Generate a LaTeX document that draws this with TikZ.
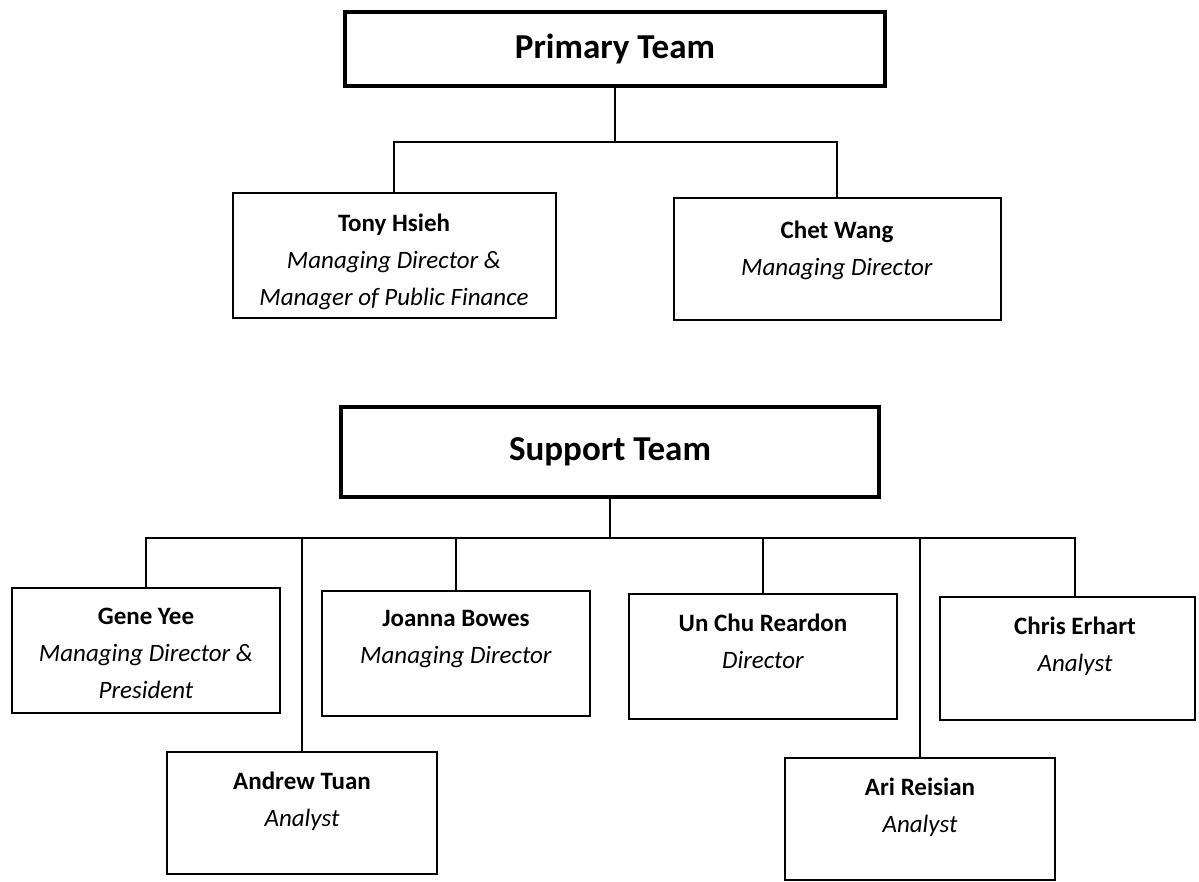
\documentclass[tikz,border=0pt]{standalone}
\usepackage{fontspec}
\setmainfont{Carlito}
\begin{document}
\begin{tikzpicture}[x=1pt,y=-1pt,
  teambox/.style={draw, line width=3.8pt, rectangle, inner sep=0pt,
    font=\fontsize{35}{40}\selectfont\bfseries},
  personbox/.style={draw, line width=2pt, rectangle, inner sep=0pt,
    minimum width=268pt, minimum height=125pt},
  persontext/.style={anchor=north, inner sep=0pt, align=center,
    font=\fontsize{25}{37}\selectfont},
  link/.style={line width=1.3pt}]
\useasboundingbox (0,0) rectangle (1199,882);

% Primary team
\node[teambox, minimum width=540pt, minimum height=74pt] (prim) at (615,49) {Primary Team};
\node[personbox, minimum width=323pt] (tony) at (394,256) {};
\node[persontext] (tonyT) at ([yshift=-21pt]tony.north) {\textbf{Tony Hsieh}\\\textit{Managing Director \&}\\\textit{Manager of Public Finance}};
\node[personbox, minimum width=327pt, minimum height=122pt] (chet) at (837,259) {};
\node[persontext] (chetT) at ([yshift=-24pt]chet.north) {\textbf{Chet Wang}\\\textit{Managing Director}};

\coordinate (pj) at (615,142);
\draw[link] (prim.south) -- (pj);
\draw[link] (tony.north) |- (pj) -| (chet.north);

% Support team
\node[teambox, minimum width=538pt, minimum height=90pt] (supp) at (610,452) {Support Team};

\node[personbox] (gene) at (146,650) {};
\node[persontext] (geneT) at ([yshift=-21pt]gene.north) {\textbf{Gene Yee}\\\textit{Managing Director \&}\\\textit{President}};

\node[personbox] (joanna) at (456,653) {};
\node[persontext] (joannaT) at ([yshift=-21pt]joanna.north) {\textbf{Joanna Bowes}\\\textit{Managing Director}};

\node[personbox] (unchu) at (763,656) {};
\node[persontext] (unchuT) at ([yshift=-21pt]unchu.north) {\textbf{Un Chu Reardon}\\\textit{Director}};

\node[personbox, minimum width=255pt, minimum height=123pt] (chris) at (1067,658) {};
\node[persontext] (chrisT) at ([yshift=-21pt]chris.north-|1075,0) {\textbf{Chris Erhart}\\\textit{Analyst}};

\node[personbox, minimum width=270pt, minimum height=122pt] (andrew) at (302,813) {};
\node[persontext] (andrewT) at ([yshift=-21pt]andrew.north) {\textbf{Andrew Tuan}\\\textit{Analyst}};

\node[personbox, minimum width=270pt, minimum height=122pt] (ari) at (920,819) {};
\node[persontext] (ariT) at ([yshift=-21pt]ari.north) {\textbf{Ari Reisian}\\\textit{Analyst}};

\coordinate (sj) at (610,538);
\draw[link] (supp.south) -- (sj);
\draw[link] (gene.north) |- (sj);
\draw[link] (sj) -| ([xshift=8pt]chris.north);
\draw[link] (andrew.north) -- (andrew.north |- sj);
\draw[link] (joanna.north) -- (joanna.north |- sj);
\draw[link] (unchu.north) -- (unchu.north |- sj);
\draw[link] (ari.north) -- (ari.north |- sj);
\end{tikzpicture}
\end{document}
